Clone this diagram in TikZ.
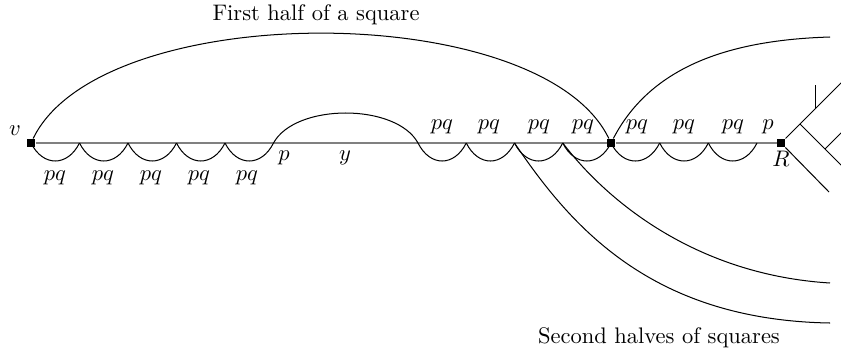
\documentclass[tikz,border=0pt]{standalone}
\usepackage{amsmath}
\usepackage{amssymb}
\usepackage{xcolor}

\begin{document}
\begin{tikzpicture}[x=0.4444pt,y=-0.4444pt,
    mainline/.style={gray,line width=0.8pt},
    arcline/.style={black,line width=0.45pt},
    endpt/.style={fill=black,inner sep=0pt,minimum size=3.6pt},
    lab/.style={anchor=base,inner sep=0pt}]
  \useasboundingbox (0,0) rectangle (841,354);
  \clip (0,0) rectangle (841,354);
  \foreach \i in {0,...,5} \coordinate (a\i) at ({31+48.5*\i},143);
  \foreach \i in {0,...,4} \coordinate (b\i) at ({418+48.25*\i},143);
  \foreach \i in {0,...,3} \coordinate (c\i) at ({611+48.67*\i},143);
  \node[endpt] (v) at (a0) {};
  \node[endpt] (m) at (b4) {};
  \node[endpt] (R) at (781,143) {};
  \draw[mainline] (v) -- (m) -- (R);
  \foreach \i [count=\j] in {0,...,4}
    \draw[arcline] (a\i) .. controls +(12,24) and +(-12,24) .. (a\j);
  \foreach \i [count=\j] in {0,...,3}
    \draw[arcline] (b\i) .. controls +(12,24) and +(-12,24) .. (b\j);
  \foreach \i [count=\j] in {0,...,2}
    \draw[arcline] (c\i) .. controls +(12,24) and +(-12,24) .. (c\j);
  \draw[arcline] (a5) .. controls +(22,-40) and +(-22,-40) .. (b0);
  % first half and second halves
  \coordinate (t1) at (830,37);
  \coordinate (s1) at (830,323);
  \coordinate (s2) at (830,283);
  \draw[arcline] (v) .. controls (101,-2) and (541,-2) .. (m);
  \draw[arcline] (m) .. controls (651,66) and (730,40) .. (t1);
  \draw[arcline] (b2) .. controls (570,225) and (650,320) .. (s1);
  \draw[arcline] (b3) .. controls (610,205) and (700,275) .. (s2);
  % tree at R
  \coordinate (e1) at (850,74);
  \coordinate (e2) at (829,192);
  \coordinate (k1) at (800,124);
  \coordinate (e3) at (850,174);
  \coordinate (k2) at (825,149);
  \coordinate (e4) at (850,124);
  \coordinate (k3) at (815,109);
  \coordinate (e5) at (815,85);
  \draw[arcline] (R) -- (e1);
  \draw[arcline] (R) -- (e2);
  \draw[arcline] (k1) -- (e3);
  \draw[arcline] (k2) -- (e4);
  \draw[arcline] (k3) -- (e5);
  % labels
  \node[lab] (vl) at (15,135) {$v$};
  \node[lab] (Rl) at (781,166) {$R$};
  \node[lab] (pl) at (284,160) {$p$};
  \node[lab] (yl) at (345,160) {$y$};
  \foreach \i in {0,...,4}
    \node[lab] (pql\i) at ({55+48*\i},180) {$pq$};
  \foreach \x [count=\k] in {442,489,539,583,637,684,733}
    \node[lab] (pqr\k) at (\x,129) {$pq$};
  \node[lab] (pr) at (768,129) {$p$};
  \node[lab] (first) at (316,20) {First half of a square};
  \node[lab] (second) at (659,343) {Second halves of squares};
\end{tikzpicture}
\end{document}
